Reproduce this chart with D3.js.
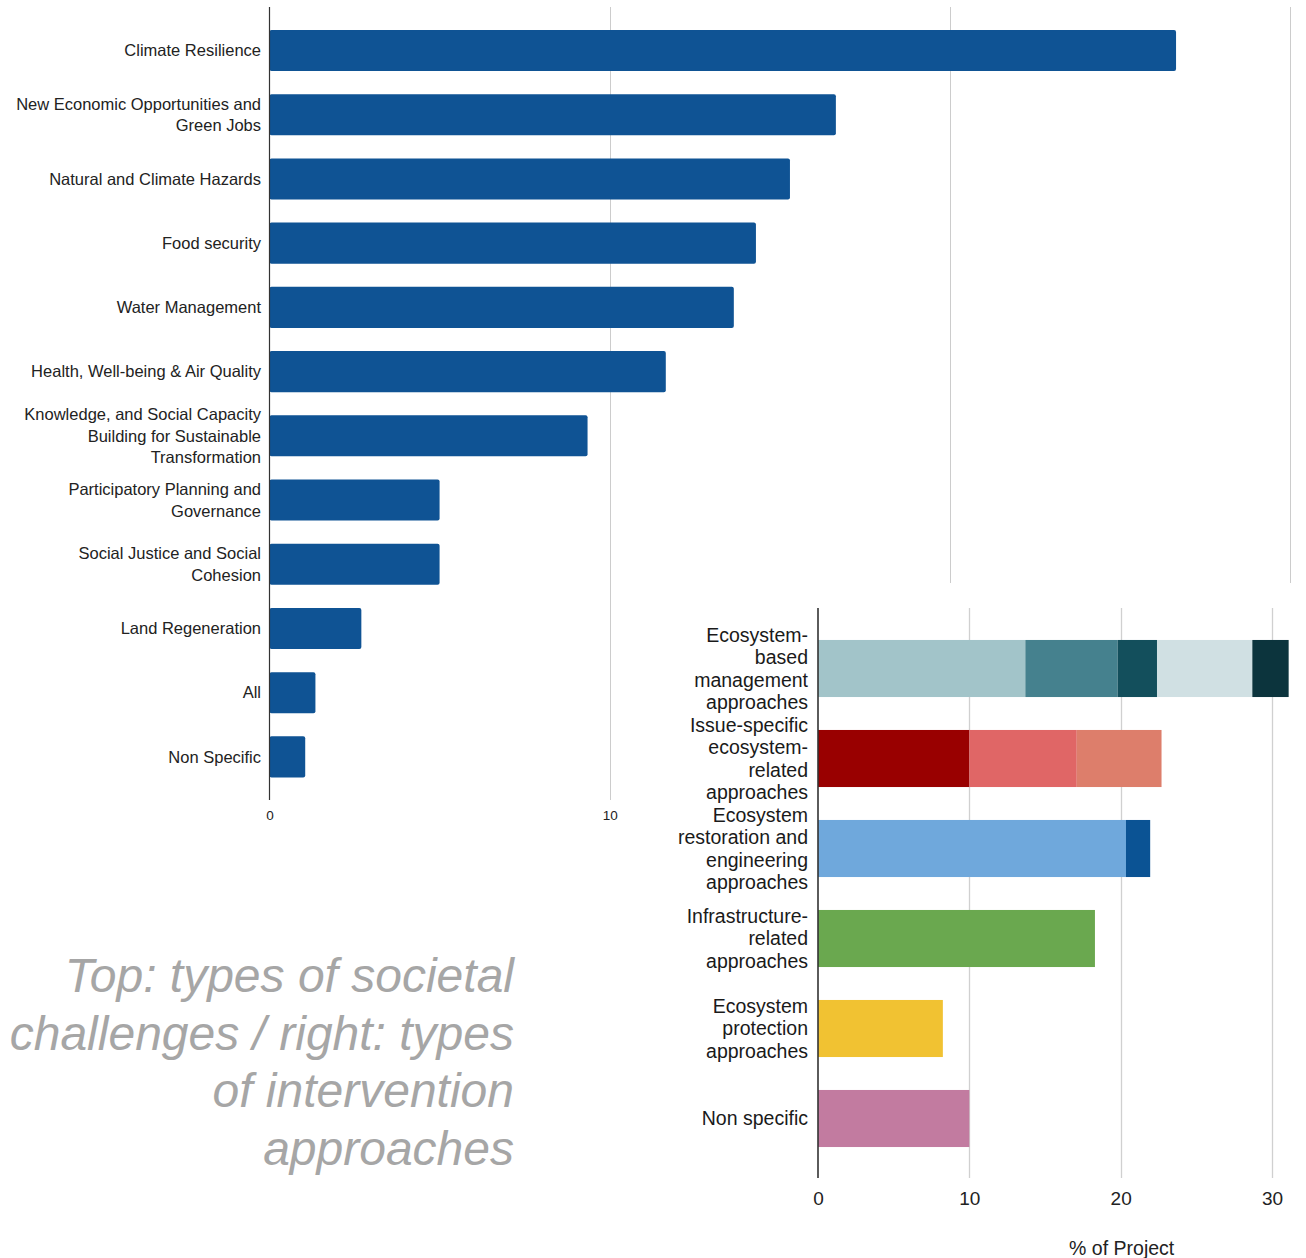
<!DOCTYPE html>
<html>
<head>
<meta charset="utf-8">
<script src="https://cdn.jsdelivr.net/npm/d3@7/dist/d3.min.js"></script>
<style>
html,body{margin:0;padding:0;background:#fff;}
svg{display:block;}
</style>
</head>
<body>
<svg id="chart" width="1306" height="1258"></svg>
<script>
// ---------- DATA ----------
const challengeLabels = [
  "Climate Resilience",
  "New Economic Opportunities and\nGreen Jobs",
  "Natural and Climate Hazards",
  "Food security",
  "Water Management",
  "Health, Well-being & Air Quality",
  "Knowledge, and Social Capacity\nBuilding for Sustainable\nTransformation",
  "Participatory Planning and\nGovernance",
  "Social Justice and Social\nCohesion",
  "Land Regeneration",
  "All",
  "Non Specific"
];
const challengeValues = [26.65, 16.65, 15.3, 14.3, 13.65, 11.65, 9.35, 5.0, 5.0, 2.7, 1.35, 1.05];
const challengeTicks = [0, 10, 20, 30];

const approachLabels = [
  "Ecosystem-\nbased\nmanagement\napproaches",
  "Issue-specific\necosystem-\nrelated\napproaches",
  "Ecosystem\nrestoration and\nengineering\napproaches",
  "Infrastructure-\nrelated\napproaches",
  "Ecosystem\nprotection\napproaches",
  "Non specific"
];
const approachSegments = [
  [13.7, 6.1, 2.6, 6.3, 2.4],
  [10.0, 7.1, 5.6],
  [20.35, 1.6],
  [18.3],
  [8.25],
  [10.0]
];
const approachColors = [
  ["#a2c4c9", "#45818e", "#134f5c", "#d0e0e3", "#0c343d"],
  ["#990000", "#e06666", "#dd7e6b"],
  ["#6fa8dc", "#0b5394"],
  ["#6aa84f"],
  ["#f1c232"],
  ["#c27ba0"]
];
const approachTicks = [0, 10, 20, 30];
const approachAxisTitle = "% of Project";

const captionLines = [
  "Top: types of societal",
  "challenges / right: types",
  "of intervention",
  "approaches"
];

// ---------- DRAW ----------
const svg = d3.select("#chart");
const FONT = "'Liberation Sans', Arial, sans-serif";

// ===== Top chart =====
const gTop = svg.append("g");
const x1 = d3.scaleLinear().domain([0, 30]).range([269.5, 1290]);
const y1 = d3.scaleBand().domain(challengeLabels).range([18.4, 789]).paddingInner(0.36).paddingOuter(0.18);
const gridTop = 7, gridBottom = 800;

gTop.append("g").selectAll("line").data(challengeTicks.filter(d => d > 0)).join("line")
  .attr("x1", d => Math.round(x1(d)) + 0.5).attr("x2", d => Math.round(x1(d)) + 0.5)
  .attr("y1", gridTop).attr("y2", gridBottom)
  .attr("stroke", "#cccccc").attr("stroke-width", 1);

gTop.append("g").selectAll("rect").data(challengeLabels).join("rect")
  .attr("x", x1(0))
  .attr("y", d => y1(d))
  .attr("width", (d, i) => x1(challengeValues[i]) - x1(0))
  .attr("height", y1.bandwidth())
  .attr("rx", 2)
  .attr("fill", "#0f5394");

gTop.append("line")
  .attr("x1", x1(0)).attr("x2", x1(0)).attr("y1", gridTop).attr("y2", gridBottom)
  .attr("stroke", "#333").attr("stroke-width", 1.2);

const lab1 = gTop.append("g").selectAll("text").data(challengeLabels).join("text")
  .attr("text-anchor", "end")
  .attr("font-family", FONT).attr("font-size", 16.5).attr("fill", "#222");
lab1.each(function(d) {
  const lines = d.split("\n");
  const lh = 21.5;
  const cy = y1(d) + y1.bandwidth() / 2;
  const t = d3.select(this);
  lines.forEach((ln, k) => {
    t.append("tspan")
      .attr("x", 261)
      .attr("y", cy + (k - (lines.length - 1) / 2) * lh)
      .attr("dy", "0.35em")
      .text(ln);
  });
});

const ax1 = gTop.append("g").attr("transform", `translate(0,${gridBottom + 10})`)
  .call(d3.axisBottom(x1).tickValues(challengeTicks).tickSize(0).tickFormat(d3.format("d")));
ax1.select(".domain").remove();
ax1.selectAll("text").attr("font-family", FONT).attr("font-size", 13.5).attr("fill", "#222").attr("dy", "0.35em").attr("y", 5);

// ===== Bottom-right panel =====
svg.append("rect").attr("x", 640).attr("y", 583).attr("width", 666).attr("height", 675).attr("fill", "#ffffff");

const gBot = svg.append("g");
const x2 = d3.scaleLinear().domain([0, 30]).range([818, 1272]);
const y2 = d3.scaleBand().domain(approachLabels).range([623.5, 1163.5]).paddingInner(0.366).paddingOuter(0.183);
const g2Top = 608, g2Bottom = 1178;

gBot.append("g").selectAll("line").data(approachTicks.filter(d => d > 0)).join("line")
  .attr("x1", d => Math.round(x2(d)) + 0.5).attr("x2", d => Math.round(x2(d)) + 0.5)
  .attr("y1", g2Top).attr("y2", g2Bottom)
  .attr("stroke", "#d0d0d0").attr("stroke-width", 1.3);

approachLabels.forEach((cat, i) => {
  let acc = 0;
  approachSegments[i].forEach((v, j) => {
    gBot.append("rect")
      .attr("x", x2(acc))
      .attr("y", y2(cat))
      .attr("width", x2(acc + v) - x2(acc))
      .attr("height", y2.bandwidth())
      .attr("fill", approachColors[i][j]);
    acc += v;
  });
});

gBot.append("line")
  .attr("x1", x2(0)).attr("x2", x2(0)).attr("y1", g2Top).attr("y2", g2Bottom)
  .attr("stroke", "#333").attr("stroke-width", 1.6);

const lab2 = gBot.append("g").selectAll("text").data(approachLabels).join("text")
  .attr("text-anchor", "end")
  .attr("font-family", FONT).attr("font-size", 19.5).attr("fill", "#1a1a1a");
lab2.each(function(d) {
  const lines = d.split("\n");
  const lh = 22.5;
  const cy = y2(d) + y2.bandwidth() / 2;
  const t = d3.select(this);
  lines.forEach((ln, k) => {
    t.append("tspan")
      .attr("x", 808)
      .attr("y", cy + (k - (lines.length - 1) / 2) * lh)
      .attr("dy", "0.35em")
      .text(ln);
  });
});

const ax2 = gBot.append("g").attr("transform", `translate(0,${g2Bottom + 20})`)
  .call(d3.axisBottom(x2).tickValues(approachTicks).tickSize(0).tickFormat(d3.format("d")));
ax2.select(".domain").remove();
ax2.selectAll("text").attr("font-family", FONT).attr("font-size", 19).attr("fill", "#222").attr("dy", "0.35em").attr("y", 0);

gBot.append("text")
  .attr("x", (x2(10) + x2(30)) / 2 + 1)
  .attr("y", 1248)
  .attr("dy", "0.35em")
  .attr("text-anchor", "middle")
  .attr("font-family", FONT).attr("font-size", 19.5).attr("fill", "#222")
  .text(approachAxisTitle);

// ===== Caption =====
svg.append("g").selectAll("text").data(captionLines).join("text")
  .attr("x", 514)
  .attr("y", (d, i) => 992 + i * 57.7)
  .attr("text-anchor", "end")
  .attr("font-family", FONT).attr("font-style", "italic")
  .attr("font-size", 48).attr("fill", "#a6a6a6")
  .text(d => d);
</script>
</body>
</html>
